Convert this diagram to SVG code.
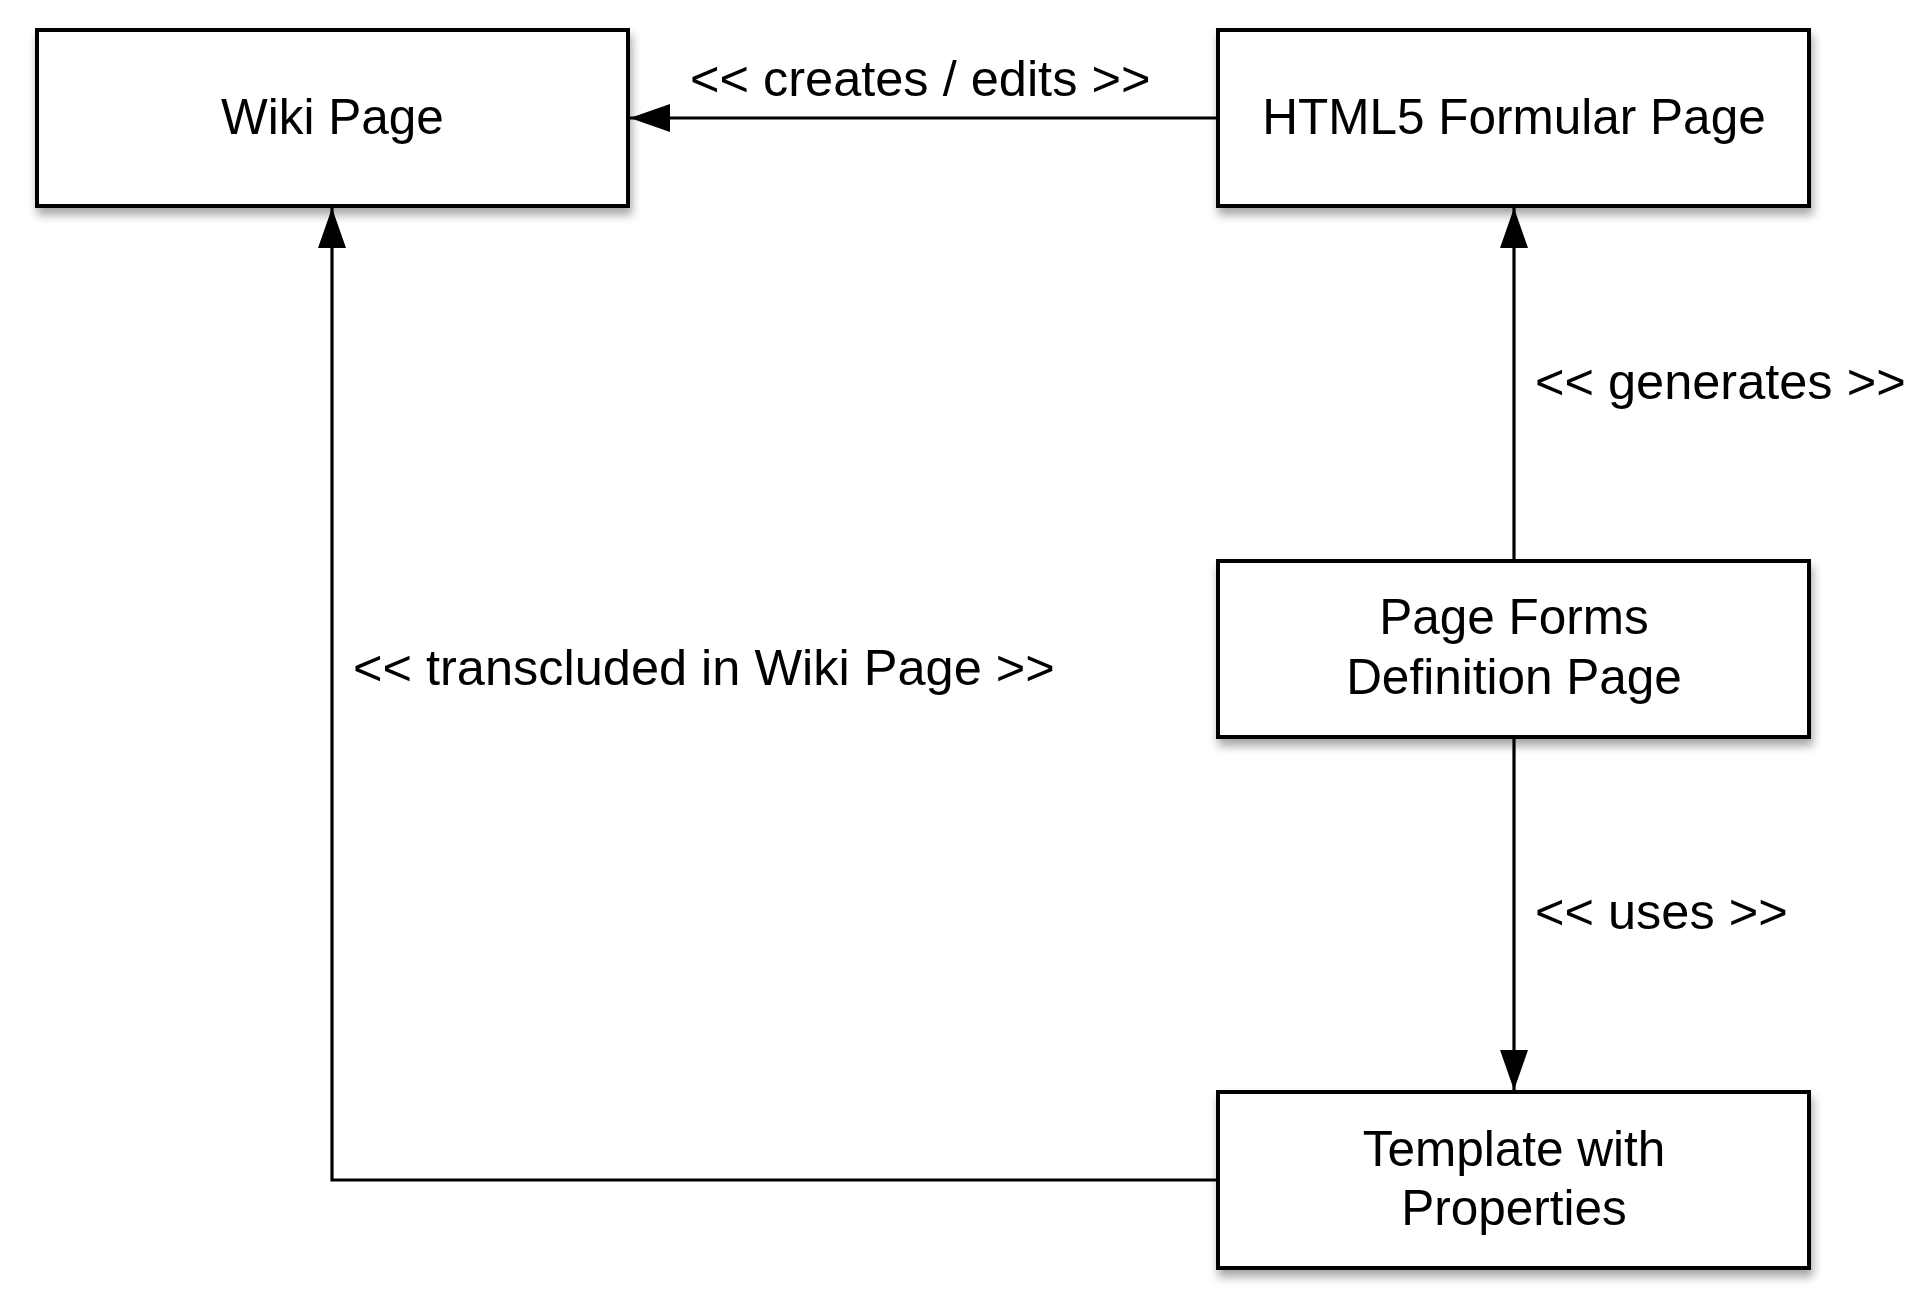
<svg xmlns="http://www.w3.org/2000/svg" width="1924" height="1316" viewBox="0 0 1924 1316">
  <defs>
    <filter id="shadow" x="-10%" y="-20%" width="125%" height="150%">
      <feDropShadow dx="2" dy="7" stdDeviation="5" flood-color="#000" flood-opacity="0.35"/>
    </filter>
    <marker id="arrow" viewBox="0 0 40 28" refX="40" refY="14" markerWidth="40" markerHeight="28" markerUnits="userSpaceOnUse" orient="auto">
      <path d="M0,0 L40,14 L0,28 Z" fill="#000"/>
    </marker>
  </defs>
  <style>
    .box { fill: #fff; stroke: #000; stroke-width: 4; filter: url(#shadow); }
    .label { font-family: "Liberation Sans", Arial, Helvetica, sans-serif; font-size: 49.5px; fill: #000; }
    .edge { font-size: 50.5px; }
    .mid { text-anchor: middle; }
    .conn { fill: none; stroke: #000; stroke-width: 3.2; marker-end: url(#arrow); }
  </style>
  <rect width="1924" height="1316" fill="#fff"/>

  <g id="connectors">
    <path class="conn" d="M1218,118 L630,118"/>
    <path class="conn" d="M1514,561 L1514,208"/>
    <path class="conn" d="M1514,737 L1514,1090"/>
    <path class="conn" d="M1218,1180 L332,1180 L332,208"/>
    <text class="label edge" x="690" y="96">&lt;&lt; creates / edits &gt;&gt;</text>
    <text class="label edge" x="1535" y="399">&lt;&lt; generates &gt;&gt;</text>
    <text class="label edge" x="1535" y="929">&lt;&lt; uses &gt;&gt;</text>
    <text class="label edge" x="353" y="685">&lt;&lt; transcluded in Wiki Page &gt;&gt;</text>
  </g>

  <g id="wiki-page">
    <rect class="box" x="37" y="30" width="591" height="176"/>
    <text class="label mid" x="332.5" y="134">Wiki Page</text>
  </g>

  <g id="html5-formular-page">
    <rect class="box" x="1218" y="30" width="591" height="176"/>
    <text class="label mid" x="1514" y="134">HTML5 Formular Page</text>
  </g>

  <g id="page-forms-definition-page">
    <rect class="box" x="1218" y="561" width="591" height="176"/>
    <text class="label mid" x="1514" y="634">Page Forms</text>
    <text class="label mid" x="1514" y="694">Definition Page</text>
  </g>

  <g id="template-with-properties">
    <rect class="box" x="1218" y="1092" width="591" height="176"/>
    <text class="label mid" x="1514" y="1166">Template with</text>
    <text class="label mid" x="1514" y="1225">Properties</text>
  </g>
</svg>
